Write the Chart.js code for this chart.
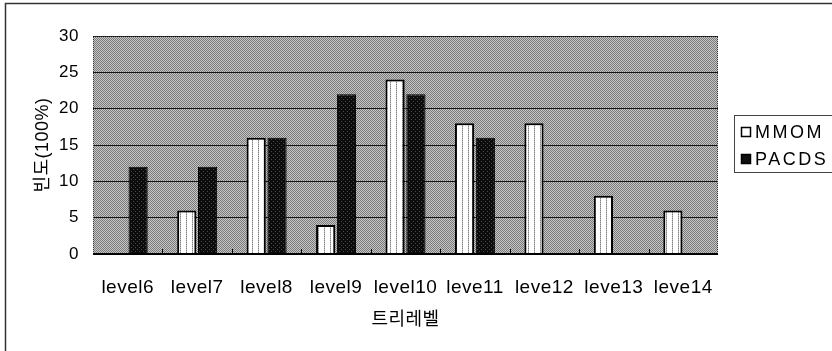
<!DOCTYPE html>
<html>
<head>
<meta charset="utf-8">
<script src="https://cdn.jsdelivr.net/npm/chart.js@4/dist/chart.umd.min.js"></script>
<style>
  html, body { margin: 0; padding: 0; background: #fff; }
  #wrap { width: 832px; height: 351px; }
</style>
</head>
<body>
<div id="wrap"><canvas id="c" width="832" height="351"></canvas></div>
<script>
// Tree levels on the x axis and frequency (%) per method
const categories = ['level6', 'level7', 'level8', 'level9', 'level10', 'leve11', 'leve12', 'leve13', 'leve14'];
const mmom  = [0, 6, 16, 4, 24, 18, 18, 8, 6];
const pacds = [12, 12, 16, 22, 22, 16, 0, 0, 0];
const seriesNames = ['MMOM', 'PACDS'];
const yMin = 0, yMax = 30, yStep = 5;

const FONT = "'Liberation Sans', 'Noto Sans CJK KR', Arial, sans-serif";

// Small tiled fills: dithered grey plot background, striped white and dark bar fills
function makePattern(w, h, draw) {
  const cv = document.createElement('canvas');
  cv.width = w; cv.height = h;
  const g = cv.getContext('2d');
  draw(g);
  return document.getElementById('c').getContext('2d').createPattern(cv, 'repeat');
}
const bgPattern = makePattern(2, 2, g => {
  g.fillStyle = '#c6c6c6'; g.fillRect(0, 0, 2, 2);
  g.fillStyle = '#7a7a7a'; g.fillRect(0, 0, 1, 1); g.fillRect(1, 1, 1, 1);
});
const whitePattern = makePattern(6, 2, g => {
  g.fillStyle = '#ffffff'; g.fillRect(0, 0, 6, 2);
  g.fillStyle = '#808080'; g.fillRect(0, 0, 1, 1);
  g.fillStyle = '#bcbcbc'; g.fillRect(0, 1, 1, 1);
});
const darkPattern = makePattern(4, 4, g => {
  g.fillStyle = '#0c0c0c'; g.fillRect(0, 0, 4, 4);
  g.fillStyle = '#4a4a4a'; g.fillRect(1, 1, 1, 1); g.fillRect(3, 3, 1, 1);
});

const framePlugin = {
  id: 'frame',
  beforeLayout(chart) { chart.ctx.letterSpacing = '0.5px'; },
  beforeDraw(chart) {
    const { ctx, chartArea: a } = chart;
    ctx.letterSpacing = '0.5px';
    ctx.save();
    ctx.fillStyle = bgPattern;
    ctx.fillRect(a.left, a.top, a.right - a.left, a.bottom - a.top);
    ctx.restore();
  },
  afterDatasetsDraw(chart) {
    const { ctx, chartArea: a, scales } = chart;
    ctx.save();
    // dotted frame on top, left and right
    ctx.strokeStyle = '#333';
    ctx.lineWidth = 1;
    ctx.setLineDash([1, 1]);
    ctx.beginPath();
    ctx.moveTo(a.left + 0.5, a.bottom);
    ctx.lineTo(a.left + 0.5, a.top + 0.5);
    ctx.lineTo(a.right - 0.5, a.top + 0.5);
    ctx.lineTo(a.right - 0.5, a.bottom);
    ctx.stroke();
    ctx.setLineDash([]);
    // solid category axis
    ctx.strokeStyle = '#000';
    ctx.lineWidth = 2;
    ctx.beginPath();
    ctx.moveTo(a.left, a.bottom);
    ctx.lineTo(a.right, a.bottom);
    ctx.stroke();
    // short inward tick marks between categories
    const x = scales.x;
    ctx.lineWidth = 1;
    ctx.beginPath();
    for (let i = 0; i < categories.length - 1; i++) {
      const px = Math.round((x.getPixelForTick(i) + x.getPixelForTick(i + 1)) / 2) + 0.5;
      ctx.moveTo(px, a.bottom);
      ctx.lineTo(px, a.bottom - 5);
    }
    ctx.stroke();
    ctx.restore();
  },
  afterDraw(chart) {
    const { ctx } = chart;
    ctx.save();
    // outer chart border
    ctx.strokeStyle = '#333';
    ctx.lineWidth = 1.5;
    ctx.strokeRect(5.5, 3.5, 900, 400);
    // legend box
    ctx.lineWidth = 1;
    ctx.strokeStyle = '#444';
    ctx.strokeRect(734.5, 115.5, 120, 57);
    const rows = [132, 159];
    ctx.font = '18px ' + FONT;
    ctx.letterSpacing = '2.5px';
    ctx.textBaseline = 'middle';
    ctx.textAlign = 'left';
    chart.data.datasets.forEach((ds, i) => {
      const cy = rows[i];
      ctx.fillStyle = i === 0 ? '#fff' : '#111';
      ctx.fillRect(741, cy - 5, 10, 10);
      ctx.strokeStyle = '#000';
      ctx.lineWidth = 1.5;
      ctx.strokeRect(741.5, cy - 4.5, 9, 9);
      ctx.fillStyle = '#000';
      ctx.fillText(ds.label, 755, cy + 1);
    });
    ctx.restore();
  }
};

new Chart(document.getElementById('c'), {
  type: 'bar',
  data: {
    labels: categories,
    datasets: [
      {
        label: seriesNames[0],
        data: mmom,
        backgroundColor: whitePattern,
        borderColor: '#000',
        borderWidth: 2,
        categoryPercentage: 0.6,
        barPercentage: 0.92
      },
      {
        label: seriesNames[1],
        data: pacds,
        backgroundColor: darkPattern,
        borderColor: '#000',
        borderWidth: 1,
        categoryPercentage: 0.6,
        barPercentage: 0.92
      }
    ]
  },
  options: {
    responsive: false,
    animation: false,
    devicePixelRatio: 1,
    layout: { padding: { left: 28, top: 36, right: 114, bottom: 16 } },
    plugins: {
      legend: { display: false },
      tooltip: { enabled: false }
    },
    scales: {
      x: {
        grid: { display: false },
        border: { display: false },
        ticks: { color: '#000', font: { family: FONT, size: 19 }, padding: 14, maxRotation: 0, autoSkip: false },
        title: { display: true, text: '트리레벨', color: '#000', font: { family: FONT, size: 18 }, padding: { top: 4, bottom: 4 } },
        afterFit(s) { s.height = 81; }
      },
      y: {
        min: yMin,
        max: yMax,
        ticks: { stepSize: yStep, color: '#000', font: { family: FONT, size: 17 }, padding: 14 },
        grid: { color: '#141414', lineWidth: 1, drawTicks: false },
        border: { display: false },
        title: { display: true, text: '빈도(100%)', color: '#000', font: { family: FONT, size: 18 }, padding: { top: 4, bottom: 4 } },
        afterFit(s) { s.width = 65; }
      }
    }
  },
  plugins: [framePlugin]
});
</script>
</body>
</html>
